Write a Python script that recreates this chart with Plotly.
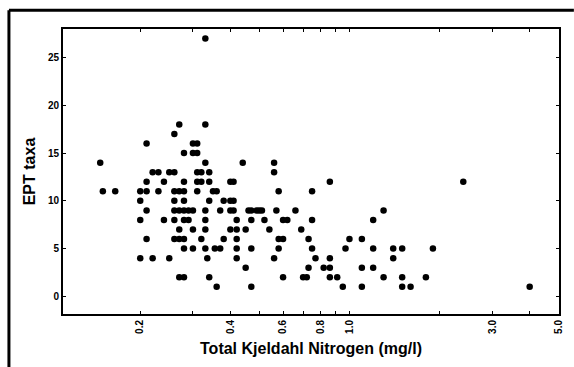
import plotly.graph_objects as go

# EPT taxa richness versus total Kjeldahl nitrogen, grouped by taxa count
ept_counts = [27, 18, 17, 16, 15, 14, 13, 12, 11, 10, 9, 8, 7, 6, 5, 4, 3, 2, 1]
tkn_by_count = [
    [0.33],
    [0.27, 0.33],
    [0.26],
    [0.21, 0.30, 0.31],
    [0.28, 0.30, 0.31],
    [0.147, 0.33, 0.44, 0.56],
    [0.22, 0.23, 0.25, 0.26, 0.31, 0.32, 0.34, 0.56],
    [0.21, 0.24, 0.28, 0.31, 0.32, 0.34, 0.40, 0.41, 0.86, 2.4],
    [0.15, 0.165, 0.20, 0.21, 0.23, 0.26, 0.27, 0.28, 0.31, 0.35, 0.36, 0.58, 0.75],
    [0.20, 0.26, 0.28, 0.34, 0.38, 0.40, 0.41],
    [0.21, 0.26, 0.27, 0.28, 0.29, 0.30, 0.33, 0.37, 0.40, 0.41,
     0.46, 0.47, 0.49, 0.50, 0.51, 0.57, 0.66, 1.30],
    [0.20, 0.24, 0.26, 0.28, 0.29, 0.33, 0.42, 0.47, 0.52, 0.60, 0.62, 0.75, 1.20],
    [0.27, 0.30, 0.33, 0.40, 0.42, 0.45, 0.54, 0.69],
    [0.21, 0.26, 0.27, 0.28, 0.32, 0.38, 0.42, 0.58, 0.60, 0.73, 1.00, 1.10],
    [0.28, 0.30, 0.33, 0.355, 0.37, 0.42, 0.47, 0.58, 0.75, 0.97, 1.20, 1.40, 1.50, 1.90],
    [0.20, 0.22, 0.25, 0.335, 0.42, 0.56, 0.77, 0.86, 1.40],
    [0.45, 0.73, 0.82, 0.86, 1.10, 1.20],
    [0.27, 0.28, 0.34, 0.60, 0.70, 0.72, 0.86, 0.91, 1.30, 1.50, 1.80],
    [0.36, 0.47, 0.95, 1.10, 1.50, 1.60, 4.0],
]

x_tick_values = [0.2, 0.3, 0.4, 0.5, 0.6, 0.7, 0.8, 0.9, 1.0, 2.0, 3.0, 4.0, 5.0]
x_tick_labels = ["0.2", "", "0.4", "", "0.6", "", "0.8", "", "1.0", "", "3.0", "", "5.0"]
y_tick_values = [0, 5, 10, 15, 20, 25]

tkn = []
ept = []
for count, xs in zip(ept_counts, tkn_by_count):
    for v in xs:
        tkn.append(v)
        ept.append(count)

fig = go.Figure(
    go.Scatter(
        x=tkn,
        y=ept,
        mode="markers",
        marker=dict(color="black", size=6.5, line=dict(width=0)),
        showlegend=False,
    )
)

axis_font = dict(family="Liberation Sans, Arial, sans-serif", size=10, color="black", weight="bold")
title_font = dict(family="Liberation Sans, Arial, sans-serif", size=16, color="black", weight="bold")

fig.update_xaxes(
    type="log",
    range=[-0.957, 0.700],
    tickmode="array",
    tickvals=x_tick_values,
    ticktext=x_tick_labels,
    tickangle=-90,
    ticks="inside",
    ticklen=3,
    tickwidth=1,
    tickcolor="black",
    tickfont=axis_font,
    showline=True,
    linecolor="black",
    linewidth=2,
    mirror="ticks",
    showgrid=False,
    zeroline=False,
    title=dict(text="Total Kjeldahl Nitrogen (mg/l)", font=title_font, standoff=10),
)
fig.update_yaxes(
    range=[-1.85, 28.0],
    tickmode="array",
    tickvals=y_tick_values,
    ticks="inside",
    ticklen=3,
    tickwidth=1,
    tickcolor="black",
    tickfont=axis_font,
    showline=True,
    linecolor="black",
    linewidth=2,
    mirror="ticks",
    showgrid=False,
    zeroline=False,
    title=dict(text="EPT taxa", font=title_font, standoff=8),
)

# Outer frame: heavy rule along the top and left edges of the figure
fig.add_shape(type="line", xref="paper", yref="paper",
              x0=-0.109, x1=1.03, y0=1.066, y1=1.066,
              line=dict(color="black", width=3))
fig.add_shape(type="line", xref="paper", yref="paper",
              x0=-0.109, x1=-0.109, y0=1.066, y1=-0.2,
              line=dict(color="black", width=3))

fig.update_layout(
    width=574,
    height=367,
    margin=dict(l=63, r=10, t=29, b=53),
    paper_bgcolor="white",
    plot_bgcolor="white",
)

fig.write_html("out.html")
